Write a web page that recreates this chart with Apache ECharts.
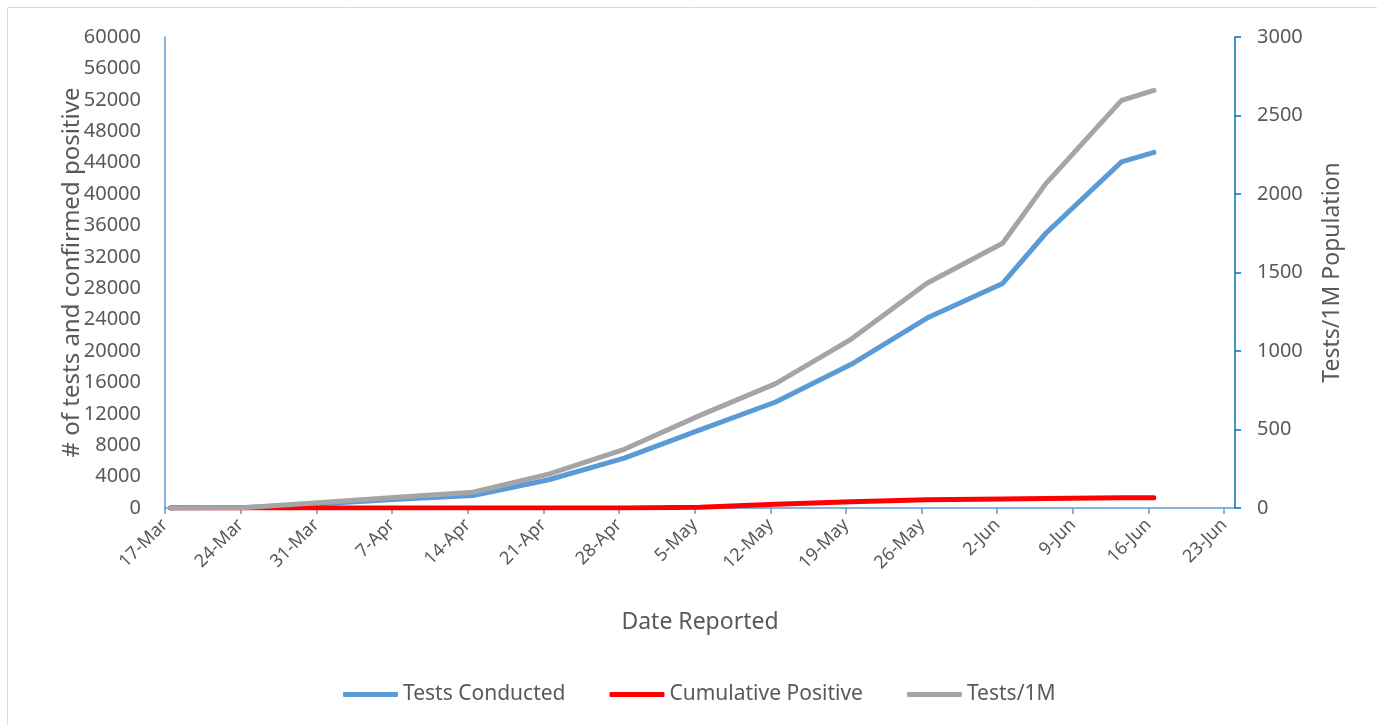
<!DOCTYPE html>
<html>
<head>
<meta charset="utf-8">
<script src="https://cdn.jsdelivr.net/npm/echarts@6/dist/echarts.min.js"></script>
<style>
html,body{margin:0;padding:0;background:#fff;}
#chart{width:1377px;height:725px;}
</style>
</head>
<body>
<div id="chart"></div>
<script>
const startDate = '2020-03-17';
const tickLabels = ['17-Mar','24-Mar','31-Mar','7-Apr','14-Apr','21-Apr','28-Apr','5-May','12-May','19-May','26-May','2-Jun','9-Jun','16-Jun','23-Jun'];
const dates = ['2020-03-17','2020-03-24','2020-03-31','2020-04-07','2020-04-14','2020-04-21','2020-04-28','2020-05-05','2020-05-12','2020-05-19','2020-05-26','2020-06-02','2020-06-06','2020-06-13','2020-06-16'];
const testsConducted = [0, 50, 550, 1100, 1600, 3600, 6350, 9950, 13500, 18300, 24200, 28600, 35000, 44100, 45300];
const cumulativePositive = [0, 0, 0, 0, 0, 0, 0, 100, 470, 800, 1060, 1150, 1200, 1290, 1310];
const testsPerMillion = [0, 3, 35, 68, 100, 216, 374, 590, 792, 1076, 1431, 1686, 2066, 2596, 2660];

const DAY = 86400000;
const t0 = Date.parse(startDate + 'T00:00:00Z');
// each date is plotted at the middle of its day slot
const xs = dates.map(d => (Date.parse(d + 'T12:00:00Z') - t0) / DAY);
const pairs = arr => arr.map((v, i) => [xs[i], v]);

const FONT = 'Noto Sans';
const TXT = '#595959';

const chart = echarts.init(document.getElementById('chart'));
chart.setOption({
  animation: false,
  backgroundColor: '#fff',
  textStyle: { fontFamily: FONT },
  graphic: [{
    type: 'rect',
    shape: { x: 7.5, y: 7.5, width: 1420, height: 760 },
    style: { fill: 'none', stroke: '#D9D9D9', lineWidth: 1 },
    silent: true
  }],
  grid: { left: 165, right: 142, top: 37, bottom: 217 },
  legend: {
    top: 679,
    left: 338,
    icon: 'roundRect',
    itemWidth: 55,
    itemHeight: 5,
    itemGap: 44,
    textStyle: { color: TXT, fontSize: 21, fontFamily: FONT, padding: [0, 0, 0, 0] },
    data: ['Tests Conducted', 'Cumulative Positive', 'Tests/1M']
  },
  xAxis: {
    type: 'value',
    min: 0,
    max: 99,
    interval: 7,
    name: 'Date Reported',
    nameLocation: 'middle',
    nameGap: 103,
    nameMoveOverlap: false,
    nameTextStyle: { color: TXT, fontSize: 23, fontFamily: FONT },
    splitLine: { show: false },
    axisLine: { show: true, lineStyle: { color: '#5B9BD5', width: 1.5 } },
    axisTick: { show: true, length: 6, lineStyle: { color: '#5B9BD5', width: 1.5 } },
    axisLabel: {
      rotate: 45,
      margin: 14,
      color: TXT,
      fontSize: 18,
      fontFamily: FONT,
      showMaxLabel: false,
      formatter: v => (v % 7 === 0 ? (tickLabels[v / 7] || '') : '')
    }
  },
  yAxis: [{
    type: 'value',
    min: 0,
    max: 60000,
    interval: 4000,
    name: '# of tests and confirmed positive',
    nameLocation: 'middle',
    nameGap: 81,
    nameMoveOverlap: false,
    nameTextStyle: { color: TXT, fontSize: 24, fontFamily: FONT },
    splitLine: { show: false },
    axisLine: { show: true, lineStyle: { color: '#5B9BD5', width: 1.5 } },
    axisTick: { show: false },
    axisLabel: { color: TXT, fontSize: 20, fontFamily: FONT, margin: 24, formatter: v => String(v) }
  }, {
    type: 'value',
    min: 0,
    max: 3000,
    interval: 500,
    position: 'right',
    name: 'Tests/1M Population',
    nameLocation: 'middle',
    nameGap: 86,
    nameMoveOverlap: false,
    nameTextStyle: { color: TXT, fontSize: 23, fontFamily: FONT },
    splitLine: { show: false },
    axisLine: { show: true, lineStyle: { color: '#0070C0', width: 1.5 } },
    axisTick: { show: true, length: 6, lineStyle: { color: '#0070C0', width: 1.5 } },
    axisLabel: { color: TXT, fontSize: 20, fontFamily: FONT, margin: 22, formatter: v => String(v) }
  }],
  series: [{
    name: 'Tests Conducted',
    type: 'line',
    yAxisIndex: 0,
    showSymbol: false,
    symbol: 'none',
    data: pairs(testsConducted),
    itemStyle: { color: '#5B9BD5' },
    lineStyle: { color: '#5B9BD5', width: 5, cap: 'round', join: 'round' }
  }, {
    name: 'Cumulative Positive',
    type: 'line',
    yAxisIndex: 0,
    showSymbol: false,
    symbol: 'none',
    data: pairs(cumulativePositive),
    itemStyle: { color: '#FF0000' },
    lineStyle: { color: '#FF0000', width: 5, cap: 'round', join: 'round' }
  }, {
    name: 'Tests/1M',
    type: 'line',
    yAxisIndex: 1,
    showSymbol: false,
    symbol: 'none',
    data: pairs(testsPerMillion),
    itemStyle: { color: '#A5A5A5' },
    lineStyle: { color: '#A5A5A5', width: 5, cap: 'round', join: 'round' }
  }]
});
</script>
</body>
</html>
